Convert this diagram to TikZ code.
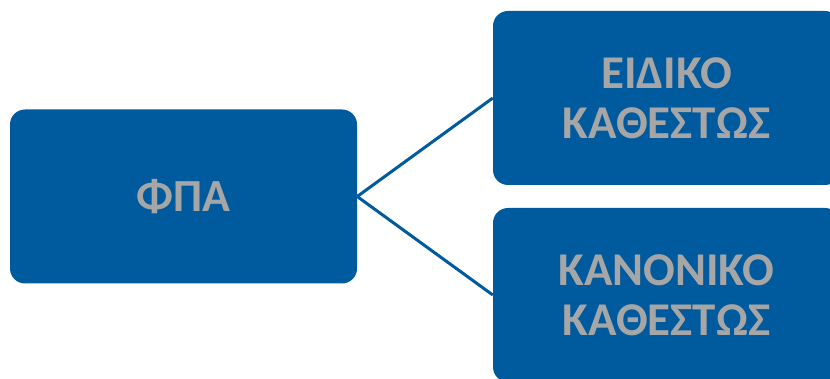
\documentclass[tikz,border=0pt]{standalone}
\usepackage{fontspec}
\setmainfont{Carlito}
\definecolor{boxblue}{HTML}{005A9E}
\definecolor{txtgray}{HTML}{A6A6A6}
\tikzset{
  regbox/.style={draw=none,fill=boxblue,rounded corners=15pt,minimum width=347pt,
    minimum height=174pt,inner sep=0pt,text=txtgray,font=\bfseries,align=center},
  link/.style={draw=boxblue,line width=3pt}
}
\begin{document}
\begin{tikzpicture}[x=1pt,y=-1pt]
\pgfmathsetmacro{\xl}{183.5}
\pgfmathsetmacro{\xr}{666.5}
\clip (0,0) rectangle (830,379);
\fill[white] (0,0) rectangle (830,379);
  \node[regbox,font=\fontsize{46}{50}\selectfont\bfseries] (fpa) at (\xl,196.5) {ΦΠΑ};
  \node[regbox,font=\fontsize{47}{50}\selectfont\bfseries] (eidiko) at (\xr,98) {ΕΙΔΙΚΟ\\ΚΑΘΕΣΤΩΣ};
  \node[regbox,font=\fontsize{47}{50}\selectfont\bfseries] (kanoniko) at (\xr,295) {ΚΑΝΟΝΙΚΟ\\ΚΑΘΕΣΤΩΣ};
  \draw[link] (fpa.east) -- (eidiko.west);
  \draw[link] (fpa.east) -- (kanoniko.west);
\end{tikzpicture}
\end{document}
